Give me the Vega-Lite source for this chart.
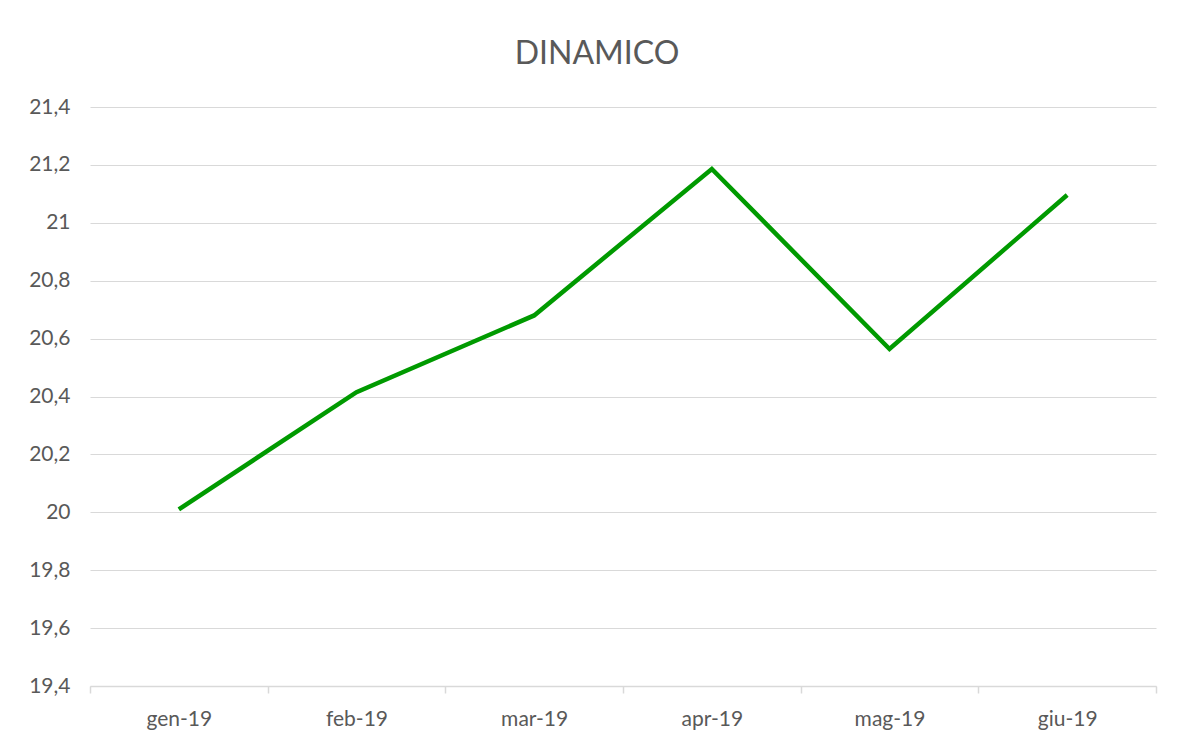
{
  "$schema": "https://vega.github.io/schema/vega-lite/v6.json",
  "autosize": {"type": "none"},
  "width": 1066,
  "height": 579,
  "padding": {"left": 90, "top": 107, "right": 25, "bottom": 56},
  "background": "white",
  "title": {
    "text": "DINAMICO",
    "font": "Lato",
    "fontSize": 32,
    "fontWeight": "normal",
    "color": "#595959",
    "anchor": "middle",
    "dx": -26,
    "offset": 25
  },
  "data": {
    "values": [
      {"mese": "gen-19", "valore": 20.01},
      {"mese": "feb-19", "valore": 20.415},
      {"mese": "mar-19", "valore": 20.68},
      {"mese": "apr-19", "valore": 21.186},
      {"mese": "mag-19", "valore": 20.564},
      {"mese": "giu-19", "valore": 21.096}
    ]
  },
  "mark": {"type": "line", "color": "#009a00", "strokeWidth": 4.5, "strokeJoin": "miter"},
  "encoding": {
    "x": {
      "field": "mese",
      "type": "ordinal",
      "sort": null,
      "bandPosition": 0.5,
      "scale": {"type": "band", "paddingInner": 0, "paddingOuter": 0},
      "axis": {
        "title": null,
        "labelAngle": 0,
        "labelFont": "Lato",
        "labelFontSize": 21,
        "labelColor": "#595959",
        "labelPadding": 15,
        "domainColor": "#d9d9d9",
        "domainWidth": 1.5,
        "tickColor": "#d9d9d9",
        "tickWidth": 1.5,
        "tickSize": 7,
        "tickBand": "extent",
        "grid": false
      }
    },
    "y": {
      "field": "valore",
      "type": "quantitative",
      "scale": {"domain": [19.4, 21.4], "nice": false, "zero": false},
      "axis": {
        "title": null,
        "values": [19.4, 19.6, 19.8, 20, 20.2, 20.4, 20.6, 20.8, 21, 21.2, 21.4],
        "labelExpr": "replace(format(datum.value, '.1~f'), '.', ',')",
        "labelFont": "Lato",
        "labelFontSize": 21,
        "labelColor": "#595959",
        "labelPadding": 20,
        "domain": false,
        "ticks": false,
        "grid": true,
        "gridColor": "#d9d9d9",
        "gridWidth": 1.2
      }
    }
  },
  "config": {"view": {"stroke": null}}
}
